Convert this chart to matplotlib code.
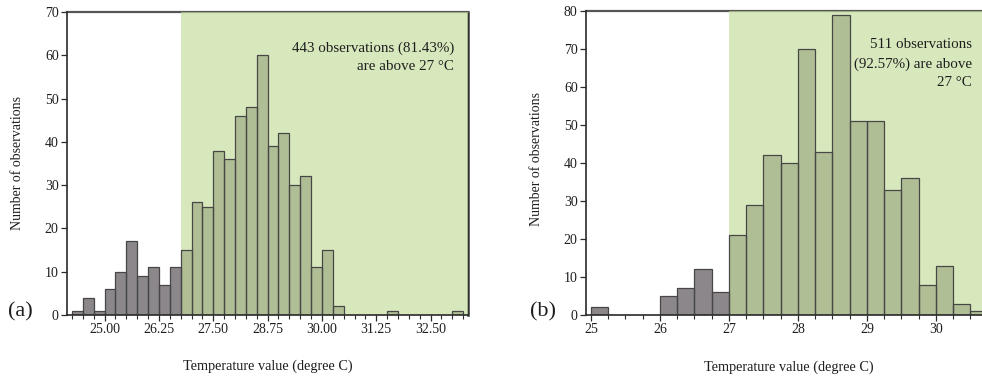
import matplotlib.pyplot as plt
from matplotlib.ticker import FixedLocator, FormatStrFormatter

plt.rcParams['font.family'] = ['Liberation Serif', 'DejaVu Serif']

# panel (a): left edge of each 0.25 degree bin and its count
bins_a = [24.25, 24.50, 24.75, 25.00, 25.25, 25.50, 25.75, 26.00, 26.25, 26.50,
          26.75, 27.00, 27.25, 27.50, 27.75, 28.00, 28.25, 28.50, 28.75, 29.00,
          29.25, 29.50, 29.75, 30.00, 30.25, 31.50, 33.00]
counts_a = [1, 4, 1, 6, 10, 17, 9, 11, 7, 11,
            15, 26, 25, 38, 36, 46, 48, 60, 39, 42,
            30, 32, 11, 15, 2, 1, 1]
ticks_a = [25.00, 26.25, 27.50, 28.75, 30.00, 31.25, 32.50]
shade_a = 26.75
note_a = "443 observations (81.43%)\nare above 27 \u00b0C"

# panel (b)
bins_b = [25.00, 26.00, 26.25, 26.50, 26.75, 27.00, 27.25, 27.50, 27.75, 28.00,
          28.25, 28.50, 28.75, 29.00, 29.25, 29.50, 29.75, 30.00, 30.25, 30.50]
counts_b = [2, 5, 7, 12, 6, 21, 29, 42, 40, 70,
            43, 79, 51, 51, 33, 36, 8, 13, 3, 1]
ticks_b = [25, 26, 27, 28, 29, 30]
shade_b = 27.0
note_b = "511 observations\n(92.57%) are above\n27 \u00b0C"

bin_w = 0.25
bar_color = '#8b878a'
edge_color = '#474747'
shade_color = '#c4dc9b'
ink = '#2a2a2a'
txt = '#1e1e1e'

fig = plt.figure(figsize=(9.82, 3.77), dpi=100)
ax_a = fig.add_axes([67 / 982, 1 - 315 / 377, (468 - 67) / 982, (315 - 12) / 377])
ax_b = fig.add_axes([586 / 982, 1 - 315 / 377, (982 - 586) / 982, (315 - 11) / 377])


def draw_panel(ax, bins, counts, shade, xlim, ylim, ticks, fmt, minor_start, minor_end):
    ax.bar(bins, counts, width=bin_w, align='edge', color=bar_color,
           linewidth=0, zorder=2)
    ax.axvspan(shade, xlim[1] + 1, color=shade_color, alpha=0.66, lw=0, zorder=3)
    # bar outlines stay dark on top of the shading
    ax.bar(bins, counts, width=bin_w, align='edge', fill=False,
           edgecolor=edge_color, linewidth=0.9, zorder=4)
    ax.set_xlim(*xlim)
    ax.set_ylim(*ylim)
    ax.set_yticks(range(0, ylim[1] + 1, 10))
    ax.xaxis.set_major_locator(FixedLocator(ticks))
    ax.xaxis.set_major_formatter(FormatStrFormatter(fmt))
    minors = []
    v = minor_start
    while v <= minor_end + 1e-9:
        minors.append(v)
        v += bin_w
    ax.xaxis.set_minor_locator(FixedLocator(minors))
    ax.tick_params(axis='both', which='major', direction='out', length=4,
                   width=0.9, color=ink, labelsize=10, labelcolor=txt, pad=2)
    ax.tick_params(axis='x', which='minor', direction='out', length=3,
                   width=0.8, color=ink)
    for side in ['left', 'bottom']:
        ax.spines[side].set_color(ink)
        ax.spines[side].set_linewidth(1.2)
        ax.spines[side].set_zorder(5)
    ax.spines['top'].set_color('#555555')
    ax.spines['top'].set_linewidth(1.6)
    ax.spines['right'].set_color('#333333')
    ax.spines['right'].set_linewidth(1.8)


draw_panel(ax_a, bins_a, counts_a, shade_a, (24.135, 33.36), (0, 70),
           ticks_a, '%.2f', 24.25, 33.25)
draw_panel(ax_b, bins_b, counts_b, shade_b, (24.93, 30.667), (0, 80),
           ticks_b, '%d', 25.0, 30.5)
ax_b.spines['right'].set_visible(False)

ax_a.text(0.965, 0.902, note_a, transform=ax_a.transAxes, ha='right', va='top',
          fontsize=10.8, color=txt, linespacing=1.5, zorder=6)
ax_b.text(0.975, 0.91, note_b, transform=ax_b.transAxes, ha='right', va='top',
          fontsize=10.8, color=txt, linespacing=1.55, zorder=6)

fig.text(18 / 982, 1 - 163 / 377, "Number of observations", rotation=90,
         ha='center', va='center', fontsize=10, color=txt)
fig.text(537 / 982, 1 - 159 / 377, "Number of observations", rotation=90,
         ha='center', va='center', fontsize=10, color=txt)
fig.text(268 / 982, 1 - 366 / 377, "Temperature value (degree C)",
         ha='center', va='center', fontsize=10.3, color=txt)
fig.text(789 / 982, 1 - 367 / 377, "Temperature value (degree C)",
         ha='center', va='center', fontsize=10.3, color=txt)
fig.text(8 / 982, 1 - 312 / 377, "(a)", ha='left', va='center', fontsize=16,
         color=txt)
fig.text(530 / 982, 1 - 312 / 377, "(b)", ha='left', va='center', fontsize=16,
         color=txt)

fig.savefig("out.png", dpi=100)
